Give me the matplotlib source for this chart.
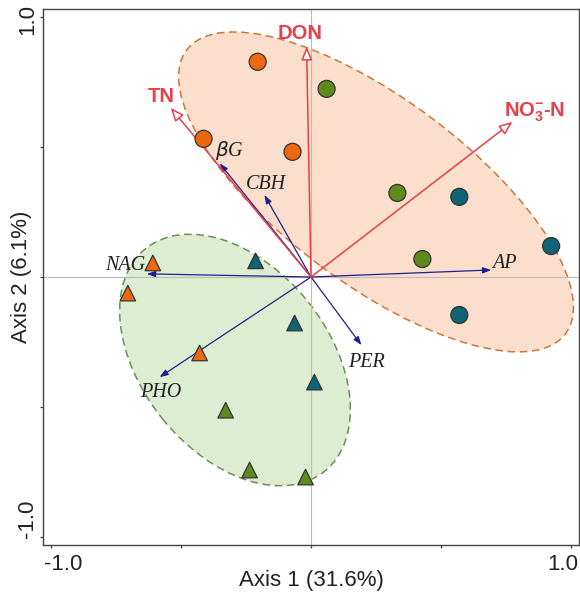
import numpy as np
import matplotlib
matplotlib.use("Agg")
import matplotlib.pyplot as plt
import matplotlib.transforms as mtransforms
from matplotlib.patches import Ellipse

plt.rcParams["font.family"] = ["Liberation Sans", "DejaVu Sans"]
plt.rcParams["mathtext.fontset"] = "custom"
plt.rcParams["mathtext.rm"] = "Liberation Sans:bold"
plt.rcParams["mathtext.bf"] = "Liberation Sans:bold"

# samples: circles (upper group) and triangles (lower group), 3 colours each
circle_x = [-0.205, -0.413, -0.071, 0.060, 0.332, 0.428, 0.570, 0.923, 0.570]
circle_y = [0.827, 0.531, 0.481, 0.723, 0.323, 0.069, 0.308, 0.119, -0.146]
circle_grp = ["A", "A", "A", "B", "B", "B", "C", "C", "C"]

tri_x = [-0.608, -0.704, -0.428, -0.328, -0.236, -0.021, -0.213, -0.063, 0.013]
tri_y = [0.054, -0.062, -0.292, -0.512, -0.742, -0.769, 0.062, -0.177, -0.404]
tri_grp = ["A", "A", "A", "B", "B", "B", "C", "C", "C"]

grp_colors = {"A": "#ED680F", "B": "#5E8A1E", "C": "#0E6377"}

# environmental vectors (red) and enzyme vectors (blue)
env_names = ["TN", "DON", "NO$_\\mathbf{3}^{\\mathbf{-}}$-N"]
env_x = [-0.539, -0.017, 0.774]
env_y = [0.650, 0.885, 0.596]
env_lab_x = [-0.574, -0.042, 0.861]
env_lab_y = [0.692, 0.937, 0.632]

enz_names = [r"$\beta$G", "CBH", "NAG", "AP", "PER", "PHO"]
enz_x = [-0.351, -0.179, -0.631, 0.693, 0.194, -0.582]
enz_y = [0.437, 0.315, 0.012, 0.027, -0.262, -0.385]
enz_lab_x = [-0.315, -0.175, -0.715, 0.743, 0.213, -0.576]
enz_lab_y = [0.486, 0.355, 0.046, 0.052, -0.327, -0.442]

# confidence ellipses: centre, width, height, angle
ell_centers = [(0.250, 0.327), (-0.292, -0.319)]
ell_widths = [1.819, 1.098]
ell_heights = [0.711, 0.718]
ell_angles = [-36.8, -51.2]
ell_fill = ["#FBDFCC", "#DDEDD1"]
ell_edge = ["#C9783F", "#6E8E58"]

red = "#E6414A"
blue = "#1E1E8E"

fig = plt.figure(figsize=(5.8, 5.95), dpi=100)
ax = fig.add_axes([43 / 580, 50 / 595, 536 / 580, 536 / 595])
ax.set_xlim(-1.03, 1.03)
ax.set_ylim(-1.03, 1.03)

for c, w, h, a, fc, ec in zip(ell_centers, ell_widths, ell_heights, ell_angles, ell_fill, ell_edge):
    ax.add_patch(Ellipse(c, w, h, angle=a, facecolor=fc, edgecolor=ec,
                         linestyle=(0, (5, 3)), linewidth=1.1, zorder=1))

ax.axhline(0, color="#BBBBBB", lw=0.8, zorder=1.5)
ax.axvline(0, color="#BBBBBB", lw=0.8, zorder=1.5)

for x, y in zip(enz_x, enz_y):
    ax.annotate("", xy=(x, y), xytext=(0, 0),
                arrowprops=dict(arrowstyle="-|>,head_length=0.5,head_width=0.18",
                                color=blue, lw=0.9, shrinkA=0, shrinkB=0,
                                mutation_scale=10), zorder=3)
for name, x, y in zip(enz_names, enz_lab_x, enz_lab_y):
    ax.text(x, y, name, family="Liberation Serif", style="italic", fontsize=14.5,
            color="#222222", ha="center", va="center", zorder=5)

for x, y in zip(env_x, env_y):
    ax.annotate("", xy=(x, y), xytext=(0, 0),
                arrowprops=dict(arrowstyle="-|>,head_length=0.8,head_width=0.33",
                                fc="white", ec=red, lw=1.1, shrinkA=0, shrinkB=0,
                                mutation_scale=10), zorder=3)
for name, x, y in zip(env_names, env_lab_x, env_lab_y):
    ax.text(x, y, name, fontsize=14.5, fontweight="bold", color=red,
            ha="center", va="center", zorder=5)

ax.scatter(circle_x, circle_y, s=150, marker="o",
           c=[grp_colors[g] for g in circle_grp], edgecolors="#333333",
           linewidths=0.9, zorder=4)
ax.scatter(tri_x, tri_y, s=125, marker="^",
           c=[grp_colors[g] for g in tri_grp], edgecolors="#333333",
           linewidths=0.9, zorder=4)

# axes cosmetics
for sp in ax.spines.values():
    sp.set_color("#444444")
    sp.set_linewidth(1.0)
ax.tick_params(direction="out", length=2.5, width=0.9, color="#444444",
               labelsize=16, labelcolor="#222222", pad=4)
ax.tick_params(axis="y", pad=1)
ax.set_xticks([-1, -0.5, 0, 0.5, 1])
ax.set_yticks([-1, -0.5, 0, 0.5, 1])
ax.set_xticklabels(["-1.0", "", "", "", "1.0"])
ax.set_yticklabels(["-1.0", "", "", "", "1.0"], rotation=90, va="center")

xoff = [12.5, 0, 0, 0, -8.5]
for lab, dx in zip(ax.get_xticklabels(), xoff):
    lab.set_transform(lab.get_transform() + mtransforms.ScaledTranslation(dx / 100, 0, fig.dpi_scale_trans))
yoff = [18, 0, 0, 0, -3]
for lab, dy in zip(ax.get_yticklabels(), yoff):
    lab.set_transform(lab.get_transform() + mtransforms.ScaledTranslation(0, dy / 100, fig.dpi_scale_trans))

ax.set_xlabel("Axis 1 (31.6%)", fontsize=16, color="#222222")
ax.set_ylabel("Axis 2 (6.1%)", fontsize=16, color="#222222")
ax.xaxis.set_label_coords(0.5, -0.046)
ax.yaxis.set_label_coords(-0.021, 0.5)

fig.savefig("out.png", dpi=100)
